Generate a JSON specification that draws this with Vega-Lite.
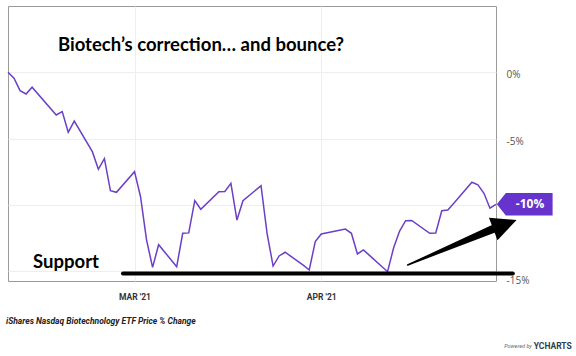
{
  "$schema": "https://vega.github.io/schema/vega-lite/v6.json",
  "width": 488,
  "height": 275,
  "autosize": {"type": "none"},
  "padding": {"left": 8, "top": 6, "right": 80, "bottom": 75},
  "background": "white",
  "config": {
    "view": {"stroke": "#9a9a9a", "strokeWidth": 1},
    "text": {"font": "Lato"}
  },
  "datasets": {
    "ibb": [
      {"date": "2021-02-08", "pct": 0},
      {"date": "2021-02-09", "pct": -0.45},
      {"date": "2021-02-10", "pct": -1.39},
      {"date": "2021-02-11", "pct": -1.64},
      {"date": "2021-02-12", "pct": -1.13},
      {"date": "2021-02-16", "pct": -3.22},
      {"date": "2021-02-17", "pct": -2.97},
      {"date": "2021-02-18", "pct": -4.53},
      {"date": "2021-02-19", "pct": -3.68},
      {"date": "2021-02-22", "pct": -5.99},
      {"date": "2021-02-23", "pct": -7.32},
      {"date": "2021-02-24", "pct": -6.52},
      {"date": "2021-02-25", "pct": -8.94},
      {"date": "2021-02-26", "pct": -9.06},
      {"date": "2021-03-01", "pct": -7.5},
      {"date": "2021-03-02", "pct": -9.39},
      {"date": "2021-03-03", "pct": -12.66},
      {"date": "2021-03-04", "pct": -14.72},
      {"date": "2021-03-05", "pct": -13.01},
      {"date": "2021-03-08", "pct": -14.67},
      {"date": "2021-03-09", "pct": -12.15},
      {"date": "2021-03-10", "pct": -12.12},
      {"date": "2021-03-11", "pct": -9.69},
      {"date": "2021-03-12", "pct": -10.34},
      {"date": "2021-03-15", "pct": -9.01},
      {"date": "2021-03-16", "pct": -8.99},
      {"date": "2021-03-17", "pct": -8.38},
      {"date": "2021-03-18", "pct": -11.15},
      {"date": "2021-03-19", "pct": -9.69},
      {"date": "2021-03-22", "pct": -8.56},
      {"date": "2021-03-23", "pct": -12.15},
      {"date": "2021-03-24", "pct": -14.62},
      {"date": "2021-03-25", "pct": -13.86},
      {"date": "2021-03-26", "pct": -13.58},
      {"date": "2021-03-29", "pct": -14.55},
      {"date": "2021-03-30", "pct": -14.92},
      {"date": "2021-03-31", "pct": -12.78},
      {"date": "2021-04-01", "pct": -12.2},
      {"date": "2021-04-05", "pct": -11.83},
      {"date": "2021-04-06", "pct": -12.15},
      {"date": "2021-04-07", "pct": -13.71},
      {"date": "2021-04-08", "pct": -13.41},
      {"date": "2021-04-09", "pct": -13.82},
      {"date": "2021-04-12", "pct": -15.05},
      {"date": "2021-04-13", "pct": -13.26},
      {"date": "2021-04-14", "pct": -11.98},
      {"date": "2021-04-15", "pct": -11.2},
      {"date": "2021-04-16", "pct": -11.18},
      {"date": "2021-04-19", "pct": -12.15},
      {"date": "2021-04-20", "pct": -12.13},
      {"date": "2021-04-21", "pct": -10.45},
      {"date": "2021-04-22", "pct": -10.39},
      {"date": "2021-04-23", "pct": -9.89},
      {"date": "2021-04-26", "pct": -8.3},
      {"date": "2021-04-27", "pct": -8.5},
      {"date": "2021-04-28", "pct": -9.13},
      {"date": "2021-04-29", "pct": -10.26},
      {"date": "2021-04-30", "pct": -9.96}
    ],
    "arrow": [
      {"date": "2021-04-15T08:00:00Z", "pct": -14.54, "t": 0},
      {"date": "2021-04-29T12:00:00Z", "pct": -11.83, "t": 1}
    ],
    "one": [{}]
  },
  "layer": [
    {
      "data": {"name": "ibb"},
      "mark": {"type": "line", "color": "#6b3fc6", "strokeWidth": 1.5, "clip": false},
      "encoding": {
        "x": {
          "field": "date",
          "type": "temporal",
          "scale": {
            "type": "utc",
            "domain": [
              {"year": 2021, "month": 2, "date": 8, "utc": true},
              {"year": 2021, "month": 4, "date": 30, "utc": true}
            ]
          },
          "axis": {
            "orient": "bottom",
            "title": null,
            "values": [
              {"year": 2021, "month": 3, "date": 1, "utc": true},
              {"year": 2021, "month": 4, "date": 1, "utc": true}
            ],
            "labelExpr": "upper(utcFormat(datum.value, '%b')) + \" '\" + utcFormat(datum.value, '%y')",
            "grid": true,
            "gridColor": "#eeeeee",
            "domain": false,
            "ticks": false,
            "labelPadding": 11,
            "labelFont": "Roboto",
            "labelFontSize": 8.5,
            "labelFontWeight": "bold",
            "labelColor": "#333333"
          }
        },
        "y": {
          "field": "pct",
          "type": "quantitative",
          "scale": {"domain": [-15.75, 5.0], "nice": false, "zero": false},
          "axis": {
            "orient": "right",
            "title": null,
            "values": [0, -5, -10, -15],
            "labelExpr": "datum.value == -10 ? '' : datum.value + '%'",
            "grid": true,
            "gridColor": "#eeeeee",
            "domain": false,
            "ticks": false,
            "labelPadding": 10,
            "labelFont": "Open Sans",
            "labelFontSize": 10,
            "labelColor": "#555555",
            "labelAlign": "left",
            "labelBaseline": "middle",
            "labelOffset": {"condition": {"test": "datum.value == -15", "value": 9}, "value": 2.5}
          }
        }
      }
    },
    {
      "data": {"name": "one"},
      "mark": {"type": "rule", "color": "black", "strokeWidth": 4, "strokeCap": "round", "clip": false},
      "encoding": {
        "x": {"datum": {"year": 2021, "month": 2, "date": 27, "hours": 2, "utc": true}, "type": "temporal"},
        "x2": {"datum": {"year": 2021, "month": 5, "date": 2, "hours": 19, "utc": true}},
        "y": {"datum": -15.19, "type": "quantitative"}
      }
    },
    {
      "data": {"name": "arrow"},
      "mark": {"type": "trail", "color": "black", "clip": false},
      "encoding": {
        "x": {"field": "date", "type": "temporal"},
        "y": {"field": "pct", "type": "quantitative"},
        "size": {"field": "t", "type": "quantitative", "scale": {"domain": [0, 1], "range": [1.5, 8]}, "legend": null}
      }
    },
    {
      "data": {"name": "one"},
      "mark": {"type": "point", "shape": "M0,0L-2,-0.96L-2,0.96Z", "size": 625, "angle": 339.2, "filled": true, "opacity": 1, "color": "black", "strokeWidth": 0, "clip": false},
      "encoding": {
        "x": {"datum": {"year": 2021, "month": 5, "date": 3, "hours": 10, "utc": true}, "type": "temporal"},
        "y": {"datum": -11.15, "type": "quantitative"}
      }
    },
    {
      "data": {"name": "one"},
      "mark": {"type": "point", "shape": "M0.03,0L0.348,-0.396L2,-0.396L2,0.396L0.348,0.396Z", "size": 3204, "filled": true, "opacity": 1, "color": "#6633cc", "strokeWidth": 0, "clip": false},
      "encoding": {
        "x": {"datum": {"year": 2021, "month": 4, "date": 30, "utc": true}, "type": "temporal"},
        "y": {"datum": -9.96, "type": "quantitative"}
      }
    },
    {
      "data": {"name": "one"},
      "mark": {"type": "text", "text": "-10%", "font": "Open Sans", "fontSize": 12, "fontWeight": "bold", "color": "white", "align": "center", "baseline": "middle", "dx": 34, "clip": false},
      "encoding": {
        "x": {"datum": {"year": 2021, "month": 4, "date": 30, "utc": true}, "type": "temporal"},
        "y": {"datum": -9.96, "type": "quantitative"}
      }
    },
    {
      "data": {"name": "one"},
      "mark": {"type": "text", "text": "Biotech’s correction… and bounce?", "font": "Lato", "fontSize": 18.5, "fontWeight": "bold", "color": "black", "align": "left", "baseline": "alphabetic"},
      "encoding": {
        "x": {"datum": {"year": 2021, "month": 2, "date": 16, "hours": 7, "utc": true}, "type": "temporal"},
        "y": {"datum": 1.57, "type": "quantitative"}
      }
    },
    {
      "data": {"name": "one"},
      "mark": {"type": "text", "text": "Support", "font": "Lato", "fontSize": 18.5, "fontWeight": "bold", "color": "black", "align": "left", "baseline": "alphabetic"},
      "encoding": {
        "x": {"datum": {"year": 2021, "month": 2, "date": 12, "hours": 4, "utc": true}, "type": "temporal"},
        "y": {"datum": -14.77, "type": "quantitative"}
      }
    },
    {
      "data": {"name": "one"},
      "mark": {"type": "text", "text": "iShares Nasdaq Biotechnology ETF Price % Change", "font": "Roboto", "fontSize": 8.5, "fontStyle": "italic", "fontWeight": "bold", "color": "#222222", "align": "left", "baseline": "alphabetic", "clip": false},
      "encoding": {
        "x": {"datum": {"year": 2021, "month": 2, "date": 7, "hours": 16, "utc": true}, "type": "temporal"},
        "y": {"datum": -19.0, "type": "quantitative"}
      }
    },
    {
      "data": {"name": "one"},
      "mark": {"type": "text", "text": "Powered by", "font": "Roboto", "fontSize": 5.5, "fontStyle": "italic", "color": "#666666", "align": "right", "baseline": "alphabetic", "clip": false},
      "encoding": {
        "x": {"datum": {"year": 2021, "month": 5, "date": 5, "hours": 23, "utc": true}, "type": "temporal"},
        "y": {"datum": -20.8, "type": "quantitative"}
      }
    },
    {
      "data": {"name": "one"},
      "mark": {"type": "text", "text": "YCHARTS", "font": "Roboto", "fontSize": 8.5, "fontWeight": "bold", "color": "#2d3e50", "align": "right", "baseline": "alphabetic", "clip": false},
      "encoding": {
        "x": {"datum": {"year": 2021, "month": 5, "date": 12, "hours": 14, "utc": true}, "type": "temporal"},
        "y": {"datum": -20.9, "type": "quantitative"}
      }
    }
  ]
}
